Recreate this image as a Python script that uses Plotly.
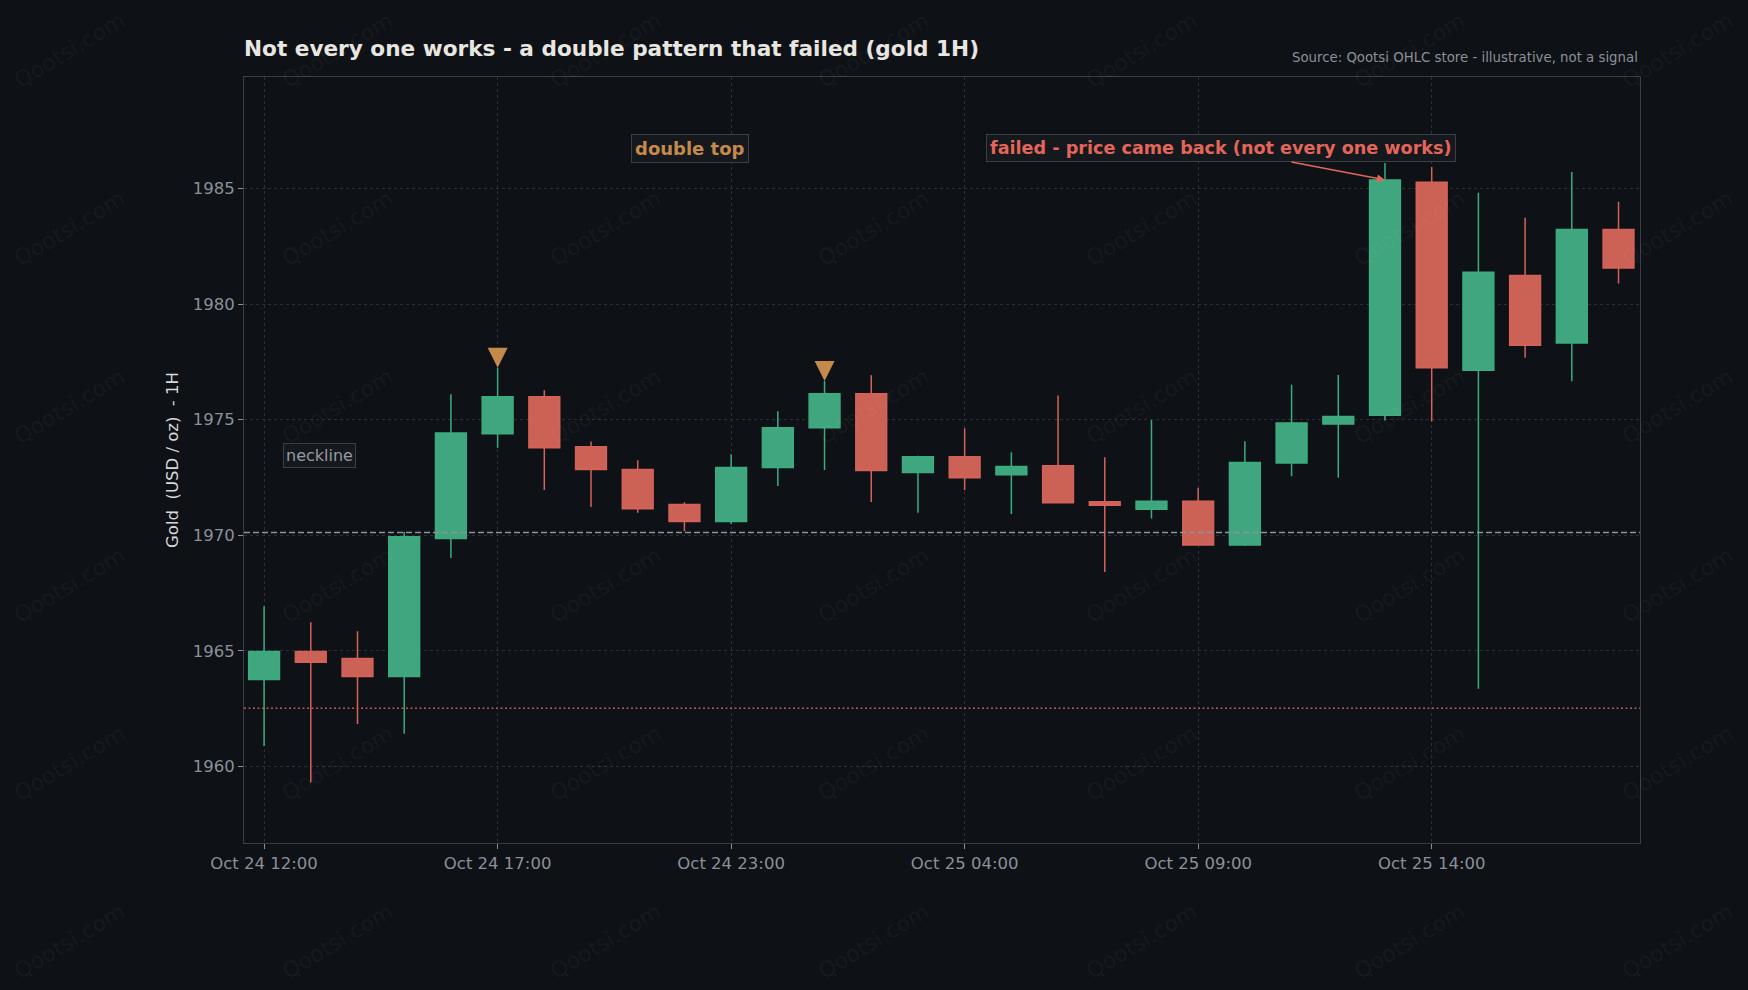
import plotly.graph_objects as go

# ---------------- data ----------------
times = ["Oct 24 12:00", "Oct 24 13:00", "Oct 24 14:00", "Oct 24 15:00", "Oct 24 16:00",
         "Oct 24 17:00", "Oct 24 19:00", "Oct 24 20:00", "Oct 24 21:00", "Oct 24 22:00",
         "Oct 24 23:00", "Oct 25 00:00", "Oct 25 01:00", "Oct 25 02:00", "Oct 25 03:00",
         "Oct 25 04:00", "Oct 25 05:00", "Oct 25 06:00", "Oct 25 07:00", "Oct 25 08:00",
         "Oct 25 09:00", "Oct 25 10:00", "Oct 25 11:00", "Oct 25 12:00", "Oct 25 13:00",
         "Oct 25 14:00", "Oct 25 15:00", "Oct 25 16:00", "Oct 25 17:00", "Oct 25 18:00"]
opens = [1963.76, 1964.97, 1964.67, 1963.89, 1969.86, 1974.39, 1975.99, 1973.83, 1972.84, 1971.33,
         1970.59, 1972.93, 1974.65, 1976.12, 1972.71, 1973.40, 1972.62, 1973.01, 1971.45, 1971.12,
         1971.47, 1969.58, 1973.13, 1974.81, 1975.19, 1985.27, 1977.14, 1981.24, 1978.32, 1983.22]
highs = [1966.93, 1966.24, 1965.85, 1970.15, 1976.10, 1977.25, 1976.27, 1974.06, 1973.24, 1971.43,
         1973.50, 1975.36, 1976.67, 1976.92, 1973.44, 1974.63, 1973.59, 1976.05, 1973.37, 1974.98,
         1972.05, 1974.07, 1976.51, 1976.93, 1986.10, 1985.93, 1984.81, 1983.73, 1985.71, 1984.42]
lows = [1960.89, 1959.31, 1961.84, 1961.41, 1969.02, 1973.78, 1971.96, 1971.22, 1970.97, 1970.17,
        1970.49, 1972.13, 1972.82, 1971.44, 1970.97, 1971.96, 1970.92, 1971.40, 1968.41, 1970.73,
        1969.55, 1969.54, 1972.55, 1972.49, 1974.96, 1974.92, 1963.36, 1977.68, 1976.66, 1980.89]
closes = [1964.97, 1964.51, 1963.89, 1969.94, 1974.42, 1975.99, 1973.79, 1972.84, 1971.15, 1970.59,
          1972.93, 1974.65, 1976.12, 1972.80, 1973.40, 1972.49, 1972.97, 1971.41, 1971.30, 1971.47,
          1969.58, 1973.15, 1974.85, 1975.14, 1985.37, 1977.24, 1981.37, 1978.22, 1983.22, 1981.56]
peak_idx = [5, 12]          # the two tops
fail_idx = 24               # breakout candle that invalidated the pattern
neckline = 1970.12
target = 1962.52
tick_idx = [0, 5, 10, 15, 20, 25]
y_ticks = [1960, 1965, 1970, 1975, 1980, 1985]

# ---------------- styles ----------------
BG = "#0e1116"
FONT = "DejaVu Sans"
GRID = "#2a2e35"
FRAME = "#3a3e45"
TICK = "#8b9099"
GREEN_FILL, GREEN_LINE = "#40a67f", "#3cac7e"
RED_FILL, RED_LINE = "#cc6155", "#d4625a"
ORANGE = "#c48a4c"
RED_TXT = "#e4665a"

x = list(range(len(times)))

fig = go.Figure()
fig.add_trace(go.Candlestick(
    x=x, open=opens, high=highs, low=lows, close=closes,
    increasing=dict(line=dict(color=GREEN_LINE, width=1.5), fillcolor=GREEN_FILL),
    decreasing=dict(line=dict(color=RED_LINE, width=1.5), fillcolor=RED_FILL),
    whiskerwidth=0, showlegend=False, hoverinfo="skip"))
fig.add_trace(go.Scatter(
    x=peak_idx, y=[highs[i] for i in peak_idx], mode="markers",
    marker=dict(symbol="arrow-down", size=20, color=ORANGE, line=dict(width=0)),
    showlegend=False, hoverinfo="skip"))

# horizontal levels
fig.add_shape(type="line", xref="paper", x0=0, x1=1, yref="y", y0=neckline, y1=neckline,
              line=dict(color="#8e9299", width=1.4, dash="6px,3px"))
fig.add_shape(type="line", xref="paper", x0=0, x1=1, yref="y", y0=target, y1=target,
              line=dict(color="#b95a52", width=1.4, dash="2px,2.5px"))

annotations = []
# watermark tiling
W, H = 1748, 990
L, R, T, B = 244, 108, 77, 147
pw, ph = W - L - R, H - T - B
for py in [50, 228, 406, 585, 763, 941]:
    for px in [69, 337, 605, 873, 1141, 1409, 1677]:
        annotations.append(dict(
            text="Qootsi.com", xref="paper", yref="paper",
            x=(px - L) / pw, y=(H - B - py) / ph, xanchor="center", yanchor="middle",
            showarrow=False, textangle=-31,
            font=dict(family=FONT, size=22, color="rgba(255,255,255,0.05)")))

annotations.append(dict(
    text="<b>double top</b>", xref="x", yref="y", x=9.12, y=1986.73,
    showarrow=False, font=dict(family=FONT, size=18, color=ORANGE),
    bgcolor="#15181d", bordercolor=FRAME, borderwidth=1, borderpad=3))
annotations.append(dict(
    text="<b>failed - price came back (not every one works)</b>",
    xref="x", yref="y", x=fail_idx, y=closes[fail_idx],
    axref="x", ayref="y", ax=20.49, ay=1986.73,
    showarrow=True, arrowhead=2, arrowsize=1, arrowwidth=1.6, arrowcolor=RED_TXT,
    font=dict(family=FONT, size=17.6, color=RED_TXT),
    bgcolor="#15181d", bordercolor=FRAME, borderwidth=1, borderpad=3))
annotations.append(dict(
    text="neckline", xref="x", yref="y", x=1.18, y=1973.46, showarrow=False,
    font=dict(family=FONT, size=16, color="#969aa2"),
    bgcolor="#15181d", bordercolor=FRAME, borderwidth=1, borderpad=2))
annotations.append(dict(
    text="Source: Qootsi OHLC store - illustrative, not a signal",
    xref="paper", yref="paper", x=1, y=(H - B - 58) / ph, xanchor="right", yanchor="middle",
    showarrow=False, font=dict(family=FONT, size=13.3, color=TICK)))

fig.update_layout(
    width=W, height=H,
    margin=dict(l=L, r=R, t=T, b=B),
    paper_bgcolor=BG, plot_bgcolor=BG,
    boxgap=0.34, boxgroupgap=0,
    font=dict(family=FONT, color=TICK),
    title=dict(text="<b>Not every one works - a double pattern that failed (gold 1H)</b>",
               x=L / W, xanchor="left", xref="container",
               y=1 - 48 / H, yanchor="middle", yref="container",
               font=dict(family=FONT, size=21.6, color="#e8e6e1")),
    showlegend=False,
    annotations=annotations,
    xaxis=dict(
        range=[-0.43, 29.46], rangeslider=dict(visible=False),
        tickmode="array", tickvals=tick_idx, ticktext=[times[i] for i in tick_idx],
        showgrid=True, gridcolor=GRID, griddash="dot", gridwidth=1,
        showline=True, linecolor=FRAME, linewidth=1, mirror=True,
        ticks="outside", ticklen=5, tickcolor=TICK,
        tickfont=dict(family=FONT, size=16.5, color=TICK),
        zeroline=False, fixedrange=True),
    yaxis=dict(
        range=[1956.69, 1989.82],
        tickmode="array", tickvals=y_ticks,
        showgrid=True, gridcolor=GRID, griddash="dot", gridwidth=1,
        showline=True, linecolor=FRAME, linewidth=1, mirror=True,
        ticks="outside", ticklen=5, tickcolor=TICK,
        tickfont=dict(family=FONT, size=16.5, color=TICK),
        title=dict(text="Gold  (USD / oz)  - 1H", standoff=9,
                   font=dict(family=FONT, size=16.5, color="#d8d8d8")),
        zeroline=False, fixedrange=True),
)

fig.write_html("out.html")
